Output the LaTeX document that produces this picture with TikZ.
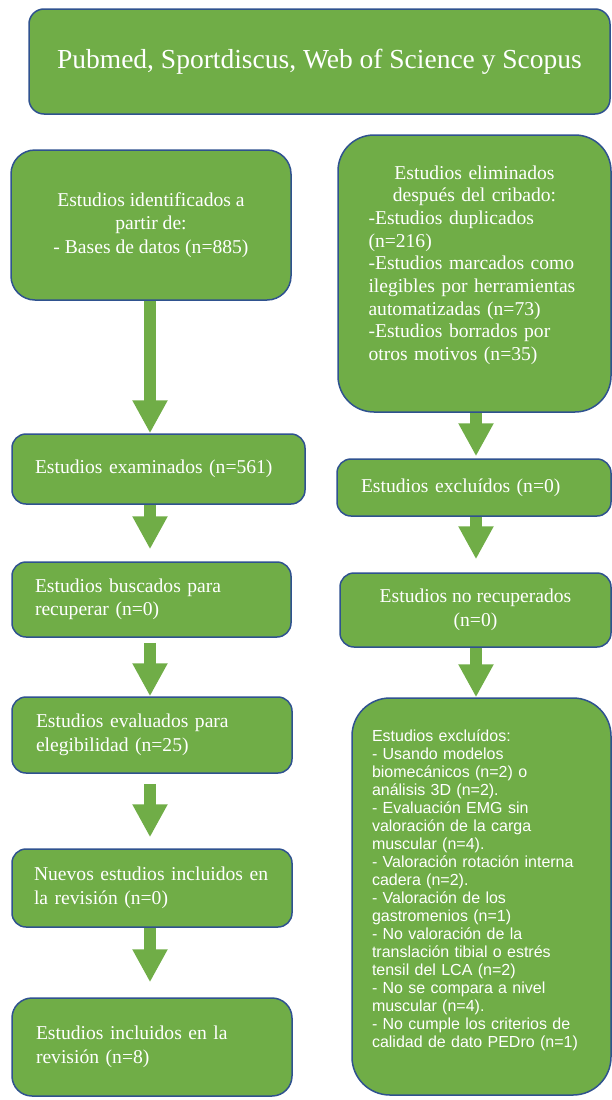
\documentclass[tikz,border=0pt]{standalone}
\usepackage{fontspec}
\setmainfont{Liberation Serif}
\newfontfamily\arialfont{Liberation Sans}
\usetikzlibrary{arrows.meta}

\definecolor{boxgreen}{HTML}{70AD47}
\definecolor{boxblue}{HTML}{2F528F}

\begin{document}
\begin{tikzpicture}[x=1pt, y=-1pt,
    box/.style={draw=boxblue, line width=1.5pt, fill=boxgreen, text=white, inner sep=0pt,
        rounded corners=14pt, font=\fontsize{19.6}{23.5}\selectfont},
    arr/.style={boxgreen, line width=12pt, -{Triangle[width=33pt, length=33pt]}}]
    \useasboundingbox (0,0) rectangle (612,1100);

    % Top box
    \node[box, align=center, minimum width=581pt, minimum height=105pt, rounded corners=15pt,
        font=\fontsize{27.5}{31}\selectfont] (T) at (319.5,61.5) {Pubmed, Sportdiscus, Web of Science y Scopus};

    % Left column
    \node[box, align=center, minimum width=280pt, minimum height=150pt, rounded corners=24pt] (L1) at (151,225)
        {Estudios identificados a\\ partir de:\\ - Bases de datos (n=885)};
    \node[box, align=left, text width=247pt, minimum width=293pt, minimum height=70pt] (L2) at (158.5,469)
        {Estudios examinados (n=561)};
    \node[box, align=left, text width=233pt, minimum width=279pt, minimum height=75pt] (L3) at (151.5,599.5)
        {Estudios buscados para\\ recuperar (n=0)};
    \node[box, align=left, text width=232pt, minimum width=280pt, minimum height=76pt] (L4) at (152,735)
        {Estudios evaluados para\\ elegibilidad (n=25)};
    \node[box, align=left, text width=236pt, minimum width=280pt, minimum height=78pt] (L5) at (152,888)
        {Nuevos estudios incluidos en\\ la revisión (n=0)};
    \node[box, align=left, text width=232pt, minimum width=280pt, minimum height=98pt, rounded corners=20pt] (L6) at (152,1047)
        {Estudios incluidos en la\\ revisión (n=8)};

    % Right column
    \node[box, align=left, text width=212pt, minimum width=273pt, minimum height=277pt, rounded corners=36pt,
        font=\fontsize{19.6}{22.7}\selectfont] (R1) at (474.5,273.5)
        {\centering Estudios eliminados\\ después del cribado:\par
         \raggedright -Estudios duplicados\\ (n=216)\\ -Estudios marcados como\\ ilegibles por herramientas\\
         automatizadas (n=73)\\ -Estudios borrados por\\ otros motivos (n=35)\rule[-21pt]{0pt}{21pt}};
    \node[box, align=left, text width=226pt, minimum width=274pt, minimum height=57pt] (R2) at (474,487.5)
        {Estudios excluídos (n=0)};
    \node[box, align=center, minimum width=271pt, minimum height=74pt] (R3) at (475.5,610)
        {Estudios no recuperados\\ (n=0)};
    \node[box, align=left, text width=219pt, minimum width=259pt, minimum height=397pt, rounded corners=38pt,
        font=\arialfont\fontsize{16}{18}\selectfont] (R4) at (481.5,896.5)
        {Estudios excluídos:\\
         - Usando modelos\\ biomecánicos (n=2) o\\ análisis 3D (n=2).\\
         - Evaluación EMG sin\\ valoración de la carga\\ muscular (n=4).\\
         - Valoración rotación interna\\ cadera (n=2).\\
         - Valoración de los\\ gastromenios (n=1)\\
         - No valoración de la\\ translación tibial o estrés\\ tensil del LCA (n=2)\\
         - No se compara a nivel\\ muscular (n=4).\\
         - No cumple los criterios de\\ calidad de dato PEDro (n=1)\rule[-16pt]{0pt}{16pt}};

    % Arrows
    \coordinate (lx) at (150,0);
    \coordinate (rx) at (476,0);
    \foreach \a/\b/\s/\e in {L1/L2/0pt/0pt, L2/L3/0pt/12pt, L3/L4/5pt/0pt, L4/L5/10pt/11pt, L5/L6/0pt/15pt} {
        \draw[arr, shorten <=\s, shorten >=\e] (\a.south -| lx) -- (\b.north -| lx);
    }
    \foreach \a/\b/\s/\e in {R1/R2/0pt/2pt, R2/R3/0pt/13pt, R3/R4/0pt/0pt} {
        \draw[arr, shorten <=\s, shorten >=\e] (\a.south -| rx) -- (\b.north -| rx);
    }
\end{tikzpicture}
\end{document}
